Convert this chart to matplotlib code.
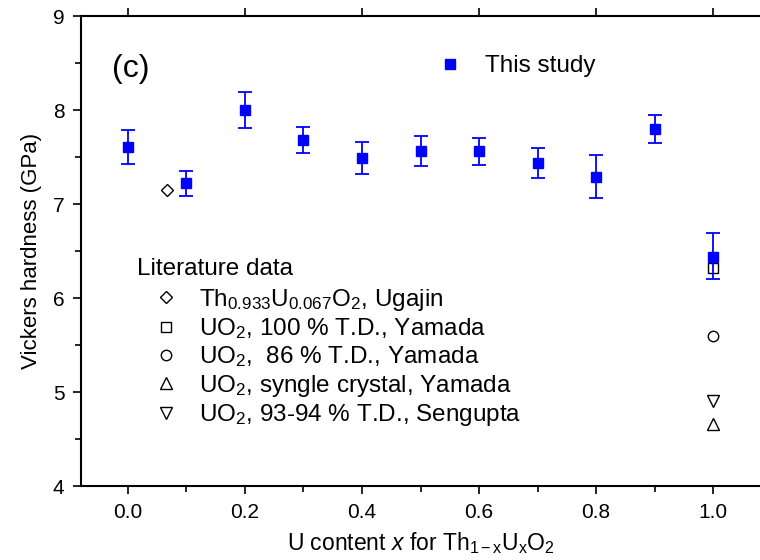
import matplotlib
matplotlib.use("Agg")
import matplotlib.pyplot as plt
from matplotlib.lines import Line2D
from matplotlib.ticker import MultipleLocator, FormatStrFormatter

plt.rcParams['font.family'] = ['Liberation Sans', 'DejaVu Sans']
plt.rcParams['mathtext.fontset'] = 'custom'
plt.rcParams['mathtext.rm'] = 'Liberation Sans'
plt.rcParams['mathtext.it'] = 'Liberation Sans:italic'

# This study
x_study = [0.0, 0.1, 0.2, 0.3, 0.4, 0.5, 0.6, 0.7, 0.8, 0.9, 1.0]
hv_study = [7.61, 7.22, 8.00, 7.68, 7.49, 7.56, 7.56, 7.44, 7.29, 7.80, 6.44]
err_low = [0.18, 0.13, 0.19, 0.14, 0.17, 0.16, 0.14, 0.16, 0.23, 0.15, 0.24]
err_high = [0.18, 0.13, 0.19, 0.14, 0.17, 0.16, 0.14, 0.16, 0.23, 0.15, 0.25]

# Literature data
x_ugajin, hv_ugajin = [0.067], [7.15]
x_y100, hv_y100 = [1.0], [6.32]
x_y86, hv_y86 = [1.0], [5.60]
x_ysc, hv_ysc = [1.0], [4.66]
x_seng, hv_seng = [1.0], [4.90]

lit_labels = [r'Th$_{0.933}$U$_{0.067}$O$_2$, Ugajin',
              r'UO$_2$, 100 % T.D., Yamada',
              r'UO$_2$,  86 % T.D., Yamada',
              r'UO$_2$, syngle crystal, Yamada',
              r'UO$_2$, 93-94 % T.D., Sengupta']

fig = plt.figure(figsize=(7.6, 5.6), dpi=100)
ax = fig.add_axes([0.1066, 0.1321, 0.8934, 0.8393])

ax.errorbar(x_study, hv_study, yerr=[err_low, err_high], fmt='s', color='#0000ff',
            ecolor='#0000ff', markersize=7.5, capsize=5, elinewidth=1.3, capthick=1.3,
            zorder=3)

mk = dict(linestyle='none', color='black', markerfacecolor='none', markeredgewidth=1.0)
h1, = ax.plot(x_ugajin, hv_ugajin, marker='D', markersize=6.5, **mk)
h2, = ax.plot(x_y100, hv_y100, marker='s', markersize=6.5, **mk)
h3, = ax.plot(x_y86, hv_y86, marker='o', markersize=7.5, **mk)
h4, = ax.plot(x_ysc, hv_ysc, marker='^', markersize=8, **mk)
h5, = ax.plot(x_seng, hv_seng, marker='v', markersize=8, **mk)

ax.set_xlim(-0.08, 1.08)
ax.set_ylim(4, 9)
ax.xaxis.set_major_locator(MultipleLocator(0.2))
ax.xaxis.set_minor_locator(MultipleLocator(0.1))
ax.yaxis.set_major_locator(MultipleLocator(1))
ax.yaxis.set_minor_locator(MultipleLocator(0.5))
ax.xaxis.set_major_formatter(FormatStrFormatter('%.1f'))
ax.tick_params(axis='both', which='major', direction='out', length=6, width=1.2,
               labelsize=15, pad=6)
ax.tick_params(axis='both', which='minor', direction='out', length=4, width=1.2)
ax.tick_params(axis='x', which='major', top=True, labeltop=False)
ax.spines['right'].set_visible(False)
for s in ['left', 'bottom', 'top']:
    ax.spines[s].set_linewidth(1.5)

ax.set_ylabel('Vickers hardness (GPa)', fontsize=16, labelpad=8)
ax.set_xlabel(r'U content $x$ for Th$_{\mathrm{1-x}}$U$_{\mathrm{x}}$O$_2$', fontsize=16.5, labelpad=6)

ax.text(0.046, 0.887, '(c)', transform=ax.transAxes, fontsize=23, ha='left', va='center')

study_handle = Line2D([], [], linestyle='none', marker='s', color='#0000ff', markersize=7.5)
leg1 = ax.legend([study_handle], ['This study'], loc='center left',
                 bbox_to_anchor=(0.5, 0.893), frameon=False, fontsize=17.5,
                 handletextpad=0.75, handlelength=1.4, borderpad=0)
ax.add_artist(leg1)

ax.text(0.0825, 0.462, 'Literature data', transform=ax.transAxes, fontsize=17.5,
        ha='left', va='center')
leg2 = ax.legend([h1, h2, h3, h4, h5], lit_labels,
                 loc='lower left', bbox_to_anchor=(0.066, 0.097), frameon=False,
                 fontsize=17.5, handletextpad=0.2, handlelength=2.3,
                 labelspacing=0.14, borderpad=0)

fig.savefig('out.png', dpi=100)
